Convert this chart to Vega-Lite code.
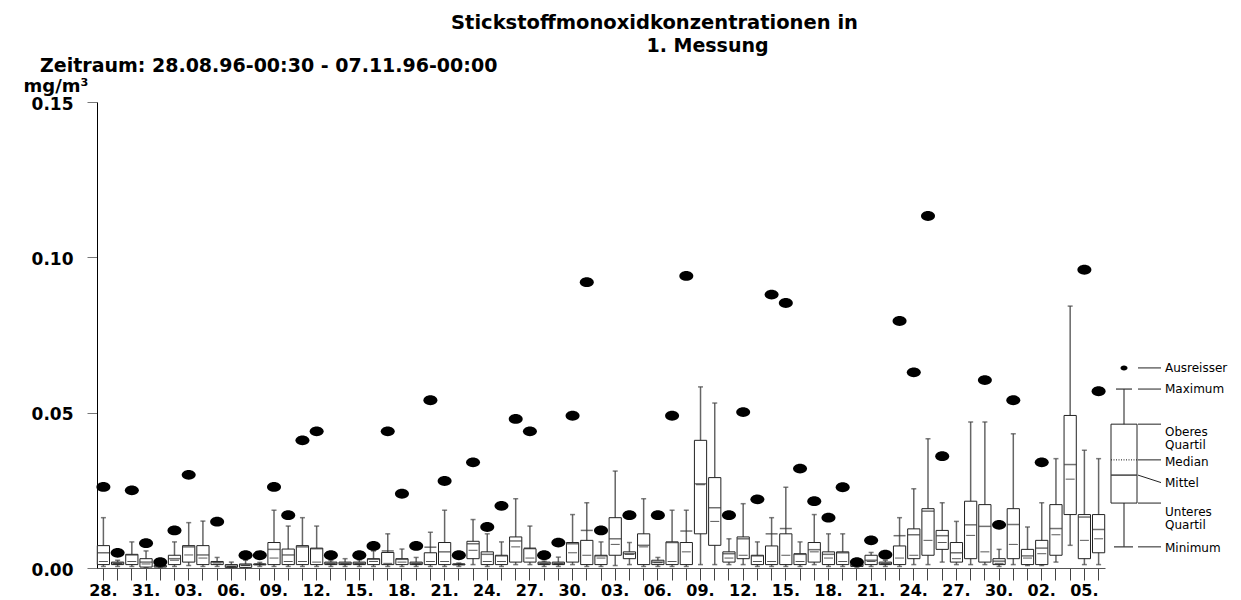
{
  "$schema": "https://vega.github.io/schema/vega-lite/v6.json",
  "background": "white",
  "padding": {"left": 23, "top": 12, "right": 0, "bottom": 0},
  "spacing": 0,
  "title": {
    "text": "Stickstoffmonoxidkonzentrationen in",
    "font": "DejaVu Sans", "fontWeight": "bold", "fontSize": 19.5,
    "anchor": "middle", "dx": 22, "offset": 4, "color": "black"
  },
  "config": {"view": {"stroke": null}, "concat": {"spacing": 0}},
  "datasets": {
    "tage": [
      {"datum":"1996-08-28","min":0.0005,"q1":0.0011,"med":0.0021,"mittel":0.0049,"q3":0.0072,"max":0.0162,"aus":0.0261},
      {"datum":"1996-08-29","min":0.0005,"q1":0.0011,"med":0.0014,"mittel":0.0016,"q3":0.0019,"max":0.0025,"aus":0.0049},
      {"datum":"1996-08-30","min":0.0005,"q1":0.0011,"med":0.0021,"mittel":0.0042,"q3":0.0044,"max":0.0084,"aus":0.025},
      {"datum":"1996-08-31","min":0.0002,"q1":0.0003,"med":0.0013,"mittel":0.0019,"q3":0.0030,"max":0.0055,"aus":0.008},
      {"datum":"1996-09-01","min":0.0001,"q1":0.0003,"med":0.0005,"mittel":0.0006,"q3":0.0008,"max":0.0012,"aus":0.0019},
      {"datum":"1996-09-02","min":0.0005,"q1":0.0011,"med":0.0025,"mittel":0.0030,"q3":0.0041,"max":0.0084,"aus":0.0121},
      {"datum":"1996-09-03","min":0.0008,"q1":0.0019,"med":0.0042,"mittel":0.0068,"q3":0.0072,"max":0.0146,"aus":0.030},
      {"datum":"1996-09-04","min":0.0005,"q1":0.0011,"med":0.0032,"mittel":0.0042,"q3":0.0072,"max":0.0151},
      {"datum":"1996-09-05","min":0.0005,"q1":0.0011,"med":0.0016,"mittel":0.0019,"q3":0.0021,"max":0.0034,"aus":0.0149},
      {"datum":"1996-09-06","min":0.0001,"q1":0.0002,"med":0.0005,"mittel":0.0006,"q3":0.0011,"max":0.0019},
      {"datum":"1996-09-07","min":0.0001,"q1":0.0002,"med":0.0008,"mittel":0.0010,"q3":0.0013,"max":0.0025,"aus":0.0041},
      {"datum":"1996-09-08","min":0.0005,"q1":0.0010,"med":0.0012,"mittel":0.0012,"q3":0.0013,"max":0.0018,"aus":0.0041},
      {"datum":"1996-09-09","min":0.0005,"q1":0.0011,"med":0.0032,"mittel":0.0060,"q3":0.0082,"max":0.0186,"aus":0.0261},
      {"datum":"1996-09-10","min":0.0005,"q1":0.0011,"med":0.0021,"mittel":0.0042,"q3":0.0061,"max":0.0135,"aus":0.017},
      {"datum":"1996-09-11","min":0.0005,"q1":0.0011,"med":0.0021,"mittel":0.0068,"q3":0.0072,"max":0.0162,"aus":0.0411},
      {"datum":"1996-09-12","min":0.0005,"q1":0.0011,"med":0.0019,"mittel":0.0062,"q3":0.0064,"max":0.0135,"aus":0.044},
      {"datum":"1996-09-13","min":0.0005,"q1":0.0011,"med":0.0013,"mittel":0.0015,"q3":0.0019,"max":0.0024,"aus":0.0041},
      {"datum":"1996-09-14","min":0.0005,"q1":0.0011,"med":0.0013,"mittel":0.0015,"q3":0.0019,"max":0.0030},
      {"datum":"1996-09-15","min":0.0005,"q1":0.0011,"med":0.0013,"mittel":0.0015,"q3":0.0019,"max":0.0026,"aus":0.0041},
      {"datum":"1996-09-16","min":0.0005,"q1":0.0011,"med":0.0021,"mittel":0.0028,"q3":0.0030,"max":0.0055,"aus":0.0071},
      {"datum":"1996-09-17","min":0.0005,"q1":0.0011,"med":0.0015,"mittel":0.0055,"q3":0.0050,"max":0.0110,"aus":0.044},
      {"datum":"1996-09-18","min":0.0005,"q1":0.0011,"med":0.0019,"mittel":0.0028,"q3":0.0030,"max":0.0061,"aus":0.0239},
      {"datum":"1996-09-19","min":0.0005,"q1":0.0011,"med":0.0013,"mittel":0.0015,"q3":0.0019,"max":0.0034,"aus":0.0071},
      {"datum":"1996-09-20","min":0.0005,"q1":0.0011,"med":0.0021,"mittel":0.0067,"q3":0.0049,"max":0.0115,"aus":0.054},
      {"datum":"1996-09-21","min":0.0005,"q1":0.0011,"med":0.0021,"mittel":0.0052,"q3":0.0082,"max":0.0186,"aus":0.028},
      {"datum":"1996-09-22","min":0.0005,"q1":0.0010,"med":0.0012,"mittel":0.0012,"q3":0.0013,"max":0.0016,"aus":0.0041},
      {"datum":"1996-09-23","min":0.0011,"q1":0.0030,"med":0.0057,"mittel":0.0078,"q3":0.0086,"max":0.0156,"aus":0.034},
      {"datum":"1996-09-24","min":0.0005,"q1":0.0011,"med":0.0021,"mittel":0.0044,"q3":0.0052,"max":0.0110,"aus":0.0132},
      {"datum":"1996-09-25","min":0.0005,"q1":0.0011,"med":0.0021,"mittel":0.0039,"q3":0.0041,"max":0.0084,"aus":0.020},
      {"datum":"1996-09-26","min":0.0011,"q1":0.0019,"med":0.0068,"mittel":0.0087,"q3":0.0100,"max":0.0223,"aus":0.048},
      {"datum":"1996-09-27","min":0.0011,"q1":0.0019,"med":0.0032,"mittel":0.0064,"q3":0.0062,"max":0.0135,"aus":0.044},
      {"datum":"1996-09-28","min":0.0005,"q1":0.0011,"med":0.0013,"mittel":0.0015,"q3":0.0019,"max":0.0022,"aus":0.0041},
      {"datum":"1996-09-29","min":0.0005,"q1":0.0011,"med":0.0013,"mittel":0.0015,"q3":0.0019,"max":0.0035,"aus":0.0082},
      {"datum":"1996-09-30","min":0.0011,"q1":0.0019,"med":0.0049,"mittel":0.0078,"q3":0.0082,"max":0.0172,"aus":0.049},
      {"datum":"1996-10-01","min":0.0005,"q1":0.0011,"med":0.0041,"mittel":0.0121,"q3":0.0089,"max":0.0210,"aus":0.092},
      {"datum":"1996-10-02","min":0.0005,"q1":0.0011,"med":0.0032,"mittel":0.0039,"q3":0.0041,"max":0.0084,"aus":0.0121},
      {"datum":"1996-10-03","min":0.0008,"q1":0.0041,"med":0.0076,"mittel":0.0094,"q3":0.0162,"max":0.0312},
      {"datum":"1996-10-04","min":0.0011,"q1":0.0030,"med":0.0044,"mittel":0.0046,"q3":0.0052,"max":0.0082,"aus":0.017},
      {"datum":"1996-10-05","min":0.0005,"q1":0.0011,"med":0.0068,"mittel":0.0073,"q3":0.0110,"max":0.0223},
      {"datum":"1996-10-06","min":0.0005,"q1":0.0011,"med":0.0017,"mittel":0.0019,"q3":0.0025,"max":0.0034,"aus":0.017},
      {"datum":"1996-10-07","min":0.0005,"q1":0.0011,"med":0.0021,"mittel":0.0082,"q3":0.0084,"max":0.0186,"aus":0.049},
      {"datum":"1996-10-08","min":0.0005,"q1":0.0011,"med":0.0052,"mittel":0.0119,"q3":0.0082,"max":0.0186,"aus":0.094},
      {"datum":"1996-10-09","min":0.0011,"q1":0.0110,"med":0.0268,"mittel":0.0271,"q3":0.0411,"max":0.0583},
      {"datum":"1996-10-10","min":0.0011,"q1":0.0073,"med":0.0150,"mittel":0.0194,"q3":0.0291,"max":0.0531},
      {"datum":"1996-10-11","min":0.0011,"q1":0.0019,"med":0.0032,"mittel":0.0046,"q3":0.0052,"max":0.0094,"aus":0.017},
      {"datum":"1996-10-12","min":0.0011,"q1":0.0030,"med":0.0041,"mittel":0.0094,"q3":0.0100,"max":0.0207,"aus":0.0502},
      {"datum":"1996-10-13","min":0.0005,"q1":0.0011,"med":0.0021,"mittel":0.0039,"q3":0.0041,"max":0.0084,"aus":0.0221},
      {"datum":"1996-10-14","min":0.0005,"q1":0.0011,"med":0.0021,"mittel":0.0110,"q3":0.0071,"max":0.0162,"aus":0.088},
      {"datum":"1996-10-15","min":0.0005,"q1":0.0011,"med":0.0041,"mittel":0.0127,"q3":0.0110,"max":0.0260,"aus":0.0853},
      {"datum":"1996-10-16","min":0.0005,"q1":0.0011,"med":0.0021,"mittel":0.0044,"q3":0.0046,"max":0.0084,"aus":0.032},
      {"datum":"1996-10-17","min":0.0011,"q1":0.0019,"med":0.0052,"mittel":0.0059,"q3":0.0082,"max":0.0172,"aus":0.0215},
      {"datum":"1996-10-18","min":0.0005,"q1":0.0011,"med":0.0032,"mittel":0.0044,"q3":0.0052,"max":0.0110,"aus":0.0162},
      {"datum":"1996-10-19","min":0.0005,"q1":0.0011,"med":0.0021,"mittel":0.0049,"q3":0.0052,"max":0.0110,"aus":0.026},
      {"datum":"1996-10-20","min":0.0002,"q1":0.0005,"med":0.0008,"mittel":0.0009,"q3":0.0013,"max":0.0016,"aus":0.0019},
      {"datum":"1996-10-21","min":0.0005,"q1":0.0011,"med":0.0021,"mittel":0.0025,"q3":0.0041,"max":0.0050,"aus":0.0089},
      {"datum":"1996-10-22","min":0.0005,"q1":0.0011,"med":0.0013,"mittel":0.0015,"q3":0.0019,"max":0.0025,"aus":0.0043},
      {"datum":"1996-10-23","min":0.0005,"q1":0.0011,"med":0.0032,"mittel":0.0104,"q3":0.0071,"max":0.0162,"aus":0.0795},
      {"datum":"1996-10-24","min":0.0011,"q1":0.0030,"med":0.0041,"mittel":0.0107,"q3":0.0126,"max":0.0255,"aus":0.063},
      {"datum":"1996-10-25","min":0.0011,"q1":0.0041,"med":0.0089,"mittel":0.0183,"q3":0.0191,"max":0.0416,"aus":0.1133},
      {"datum":"1996-10-26","min":0.0019,"q1":0.0060,"med":0.0082,"mittel":0.0104,"q3":0.0121,"max":0.0210,"aus":0.036},
      {"datum":"1996-10-27","min":0.0011,"q1":0.0019,"med":0.0030,"mittel":0.0049,"q3":0.0082,"max":0.0150},
      {"datum":"1996-10-28","min":0.0011,"q1":0.0030,"med":0.0105,"mittel":0.0139,"q3":0.0215,"max":0.0470},
      {"datum":"1996-10-29","min":0.0011,"q1":0.0019,"med":0.0052,"mittel":0.0134,"q3":0.0204,"max":0.0470,"aus":0.0605},
      {"datum":"1996-10-30","min":0.0005,"q1":0.0011,"med":0.0015,"mittel":0.0022,"q3":0.0030,"max":0.0060,"aus":0.0139},
      {"datum":"1996-10-31","min":0.0011,"q1":0.0030,"med":0.0076,"mittel":0.0140,"q3":0.0191,"max":0.0432,"aus":0.054},
      {"datum":"1996-11-01","min":0.0008,"q1":0.0011,"med":0.0032,"mittel":0.0039,"q3":0.0060,"max":0.0132},
      {"datum":"1996-11-02","min":0.0008,"q1":0.0011,"med":0.0046,"mittel":0.0064,"q3":0.0089,"max":0.0210,"aus":0.034},
      {"datum":"1996-11-03","min":0.0019,"q1":0.0041,"med":0.0107,"mittel":0.0127,"q3":0.0204,"max":0.0352},
      {"datum":"1996-11-04","min":0.0073,"q1":0.0172,"med":0.0286,"mittel":0.0333,"q3":0.0491,"max":0.0843},
      {"datum":"1996-11-05","min":0.0011,"q1":0.0030,"med":0.0089,"mittel":0.0164,"q3":0.0172,"max":0.0379,"aus":0.096},
      {"datum":"1996-11-06","min":0.0011,"q1":0.0049,"med":0.0094,"mittel":0.0124,"q3":0.0172,"max":0.0352,"aus":0.0569},
      {"datum":"1996-11-07"}
    ],
    "legendeBox": [
      {"min":0.0068,"q1":0.0209,"med":0.0348,"mittel":0.0299,"q3":0.0463,"max":0.0576,"aus":0.0644}
    ],
    "legendeText": [
      {"label":"Ausreisser","linie":0.0644,"ende":0.0644,"texty":0.0644},
      {"label":"Maximum","linie":0.0576,"ende":0.0576,"texty":0.0576},
      {"label":"Oberes\nQuartil","linie":0.0463,"ende":0.0463,"texty":0.0439},
      {"label":"Median","linie":0.0348,"ende":0.0348,"texty":0.0341},
      {"label":"Mittel","linie":0.0299,"ende":0.0275,"texty":0.0275},
      {"label":"Unteres\nQuartil","linie":0.0209,"ende":0.0209,"texty":0.0180},
      {"label":"Minimum","linie":0.0068,"ende":0.0068,"texty":0.0064}
    ]
  },
  "vconcat": [
    {
      "title": {
        "text": "1. Messung",
        "font": "DejaVu Sans", "fontWeight": "bold", "fontSize": 19,
        "anchor": "middle", "dx": 75, "offset": 1, "color": "black"
      },
      "spacing": 0,
      "hconcat": [
        {
          "width": 1008,
          "height": 466,
          "title": {
            "text": "Zeitraum: 28.08.96-00:30 - 07.11.96-00:00",
            "anchor": "start", "frame": "group", "dx": -57, "offset": 1,
            "font": "DejaVu Sans", "fontWeight": "bold", "fontSize": 19, "color": "black"
          },
          "data": {"name": "tage"},
          "encoding": {
            "x": {
              "field": "datum", "type": "ordinal", "sort": "ascending",
              "scale": {"paddingInner": 0.14, "paddingOuter": 0.02},
              "axis": {
                "title": null,
                "labelExpr": "round((time(toDate(datum.value)) - time(toDate('1996-08-28'))) / 86400000) % 3 == 0 ? slice(datum.value, 8) + '.' : ''",
                "labelAngle": 0, "labelOverlap": false, "labelFlush": false,
                "labelFont": "DejaVu Sans", "labelFontWeight": "bold", "labelFontSize": 16, "labelColor": "black",
                "labelPadding": 2, "tickSize": 12, "tickColor": "#444", "domainColor": "#555", "grid": false
              }
            }
          },
          "layer": [
            {
              "mark": {"type": "rule", "color": "#666", "strokeWidth": 1.5},
              "encoding": {
                "y": {
                  "field": "min", "type": "quantitative",
                  "scale": {"domain": [0, 0.15], "nice": false, "zero": true},
                  "axis": {
                    "values": [0, 0.05, 0.1, 0.15], "format": ".2f", "grid": false,
                    "labelFont": "DejaVu Sans", "labelFontWeight": "bold", "labelFontSize": 17, "labelColor": "black",
                    "labelPadding": 14, "labelOffset": 2, "tickSize": 10, "tickColor": "#777", "domainColor": "black",
                    "title": "mg/m³", "titleAngle": 0, "titleAlign": "left", "titleBaseline": "alphabetic",
                    "titleX": -74, "titleY": -11,
                    "titleFont": "DejaVu Sans", "titleFontWeight": "bold", "titleFontSize": 18, "titleColor": "black"
                  }
                },
                "y2": {"field": "max"}
              }
            },
            {
              "mark": {"type": "tick", "color": "#444", "size": 5, "thickness": 1.5},
              "encoding": {"y": {"field": "max", "type": "quantitative"}}
            },
            {
              "mark": {"type": "tick", "color": "#444", "size": 5, "thickness": 1.5},
              "encoding": {"y": {"field": "min", "type": "quantitative"}}
            },
            {
              "mark": {"type": "bar", "fill": "white", "stroke": "#222", "strokeWidth": 1},
              "encoding": {
                "y": {"field": "q1", "type": "quantitative"},
                "y2": {"field": "q3"}
              }
            },
            {
              "mark": {"type": "tick", "color": "#333", "size": 12, "thickness": 1.5},
              "encoding": {"y": {"field": "mittel", "type": "quantitative"}}
            },
            {
              "mark": {"type": "tick", "color": "#111", "size": 9, "thickness": 1, "strokeDash": [3, 2]},
              "encoding": {"y": {"field": "med", "type": "quantitative"}}
            },
            {
              "mark": {"type": "point", "shape": "M-1,0A1,0.7,0,1,1,1,0A1,0.7,0,1,1,-1,0Z", "filled": true, "color": "black", "opacity": 1, "size": 196},
              "encoding": {"y": {"field": "aus", "type": "quantitative"}}
            }
          ]
        },
        {
          "width": 136,
          "height": 466,
          "layer": [
            {
              "data": {"name": "legendeBox"},
              "mark": {"type": "rule", "color": "#666", "strokeWidth": 1.5},
              "encoding": {
                "x": {"datum": 18, "type": "quantitative", "scale": {"domain": [0, 136], "nice": false}, "axis": null},
                "y": {"field": "min", "type": "quantitative", "scale": {"domain": [0, 0.15], "nice": false}, "axis": null},
                "y2": {"field": "max"}
              }
            },
            {
              "data": {"name": "legendeBox"},
              "mark": {"type": "rule", "color": "#333", "strokeWidth": 1.2},
              "encoding": {
                "x": {"datum": 10, "type": "quantitative"}, "x2": {"datum": 26},
                "y": {"field": "max", "type": "quantitative"}
              }
            },
            {
              "data": {"name": "legendeBox"},
              "mark": {"type": "rule", "color": "#333", "strokeWidth": 1.2},
              "encoding": {
                "x": {"datum": 8, "type": "quantitative"}, "x2": {"datum": 27},
                "y": {"field": "min", "type": "quantitative"}
              }
            },
            {
              "data": {"name": "legendeBox"},
              "mark": {"type": "rect", "fill": "white", "stroke": "#222", "strokeWidth": 1},
              "encoding": {
                "x": {"datum": 5, "type": "quantitative"}, "x2": {"datum": 31},
                "y": {"field": "q1", "type": "quantitative"}, "y2": {"field": "q3"}
              }
            },
            {
              "data": {"name": "legendeBox"},
              "mark": {"type": "rule", "color": "#111", "strokeWidth": 1, "strokeDash": [1, 1.5]},
              "encoding": {
                "x": {"datum": 5, "type": "quantitative"}, "x2": {"datum": 31},
                "y": {"field": "med", "type": "quantitative"}
              }
            },
            {
              "data": {"name": "legendeBox"},
              "mark": {"type": "rule", "color": "#444", "strokeWidth": 1.5},
              "encoding": {
                "x": {"datum": 5, "type": "quantitative"}, "x2": {"datum": 31},
                "y": {"field": "mittel", "type": "quantitative"}
              }
            },
            {
              "data": {"name": "legendeBox"},
              "mark": {"type": "point", "shape": "M-1,0A1,0.7,0,1,1,1,0A1,0.7,0,1,1,-1,0Z", "filled": true, "color": "black", "opacity": 1, "size": 49},
              "encoding": {
                "x": {"datum": 18, "type": "quantitative"},
                "y": {"field": "aus", "type": "quantitative"}
              }
            },
            {
              "data": {"name": "legendeText"},
              "mark": {"type": "rule", "color": "#222", "strokeWidth": 1},
              "encoding": {
                "x": {"datum": 32, "type": "quantitative"}, "x2": {"datum": 55},
                "y": {"field": "linie", "type": "quantitative"}, "y2": {"field": "ende"}
              }
            },
            {
              "data": {"name": "legendeText"},
              "mark": {"type": "text", "align": "left", "baseline": "middle", "font": "DejaVu Sans", "fontSize": 12, "lineHeight": 13, "color": "black", "lineBreak": "\n"},
              "encoding": {
                "x": {"datum": 59, "type": "quantitative"},
                "y": {"field": "texty", "type": "quantitative"},
                "text": {"field": "label"}
              }
            }
          ]
        }
      ]
    }
  ]
}
